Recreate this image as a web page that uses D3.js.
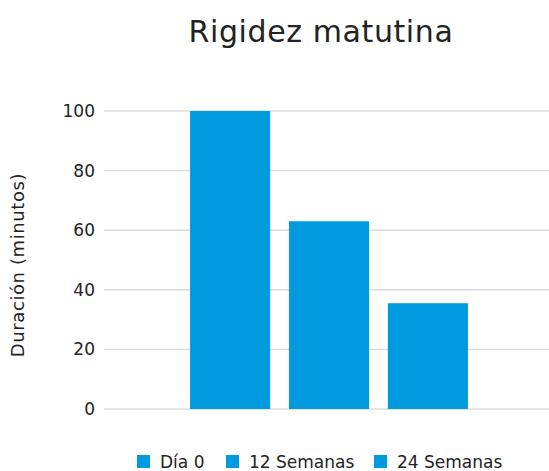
<!DOCTYPE html>
<html lang="es">
<head>
    <meta charset="UTF-8">
    <title>Rigidez matutina</title>
    <style>
        body { margin: 0; background: #fff; }
        text { font-family: "DejaVu Sans", sans-serif; fill: #222; }
        .grid line { stroke: #dcdcdc; stroke-width: 1.5; }
        .bar { fill: #009bde; }
    </style>
</head>
<body>
<div id="chart"></div>
<script src="https://cdn.jsdelivr.net/npm/d3@7"></script>
<script>
    // datos
    let categories = ["Día 0", "12 Semanas", "24 Semanas"];
    let values = [100, 63, 35.5];
    let ticks = [0, 20, 40, 60, 80, 100];

    let width = 549, height = 471;
    let svg = d3.select("#chart").append("svg")
        .attr("width", width)
        .attr("height", height);

    let y = d3.scaleLinear().domain([0, 100]).range([409, 111]);
    let x = d3.scaleBand()
        .domain(categories)
        .range([108, 550])
        .paddingInner(0.19)
        .paddingOuter(0.83);

    // lineas de la rejilla
    let grid = svg.append("g").attr("class", "grid");
    grid.selectAll("line")
        .data(ticks)
        .enter()
        .append("line")
        .attr("x1", 104)
        .attr("x2", 549)
        .attr("y1", d => y(d))
        .attr("y2", d => y(d));

    // etiquetas eje y
    svg.append("g").selectAll("text")
        .data(ticks)
        .enter()
        .append("text")
        .attr("x", 95)
        .attr("y", d => y(d))
        .attr("dy", "0.35em")
        .attr("text-anchor", "end")
        .style("font-size", "17px")
        .text(d => d);

    svg.selectAll(".bar")
        .data(values)
        .enter()
        .append("rect")
        .attr("class", "bar")
        .attr("x", (d, i) => x(categories[i]))
        .attr("width", x.bandwidth())
        .attr("y", d => y(d))
        .attr("height", d => y(0) - y(d));

    svg.append("text")
        .attr("x", 321)
        .attr("y", 42)
        .attr("text-anchor", "middle")
        .style("font-size", "30px")
        .style("letter-spacing", "0.6px")
        .text("Rigidez matutina");

    svg.append("text")
        .attr("transform", "translate(24, 265) rotate(-90)")
        .attr("text-anchor", "middle")
        .style("font-size", "18px")
        .style("letter-spacing", "0.6px")
        .text("Duración (minutos)");

    // leyenda
    let legendX = [137, 226, 374];
    let legend = svg.append("g").selectAll("g")
        .data(categories)
        .enter()
        .append("g")
        .attr("transform", (d, i) => "translate(" + legendX[i] + ", 455)");
    legend.append("rect")
        .attr("class", "bar")
        .attr("width", 13)
        .attr("height", 13);
    legend.append("text")
        .attr("x", 23)
        .attr("y", 7)
        .attr("dy", "0.35em")
        .style("font-size", "17px")
        .text(d => d);
</script>
</body>
</html>
